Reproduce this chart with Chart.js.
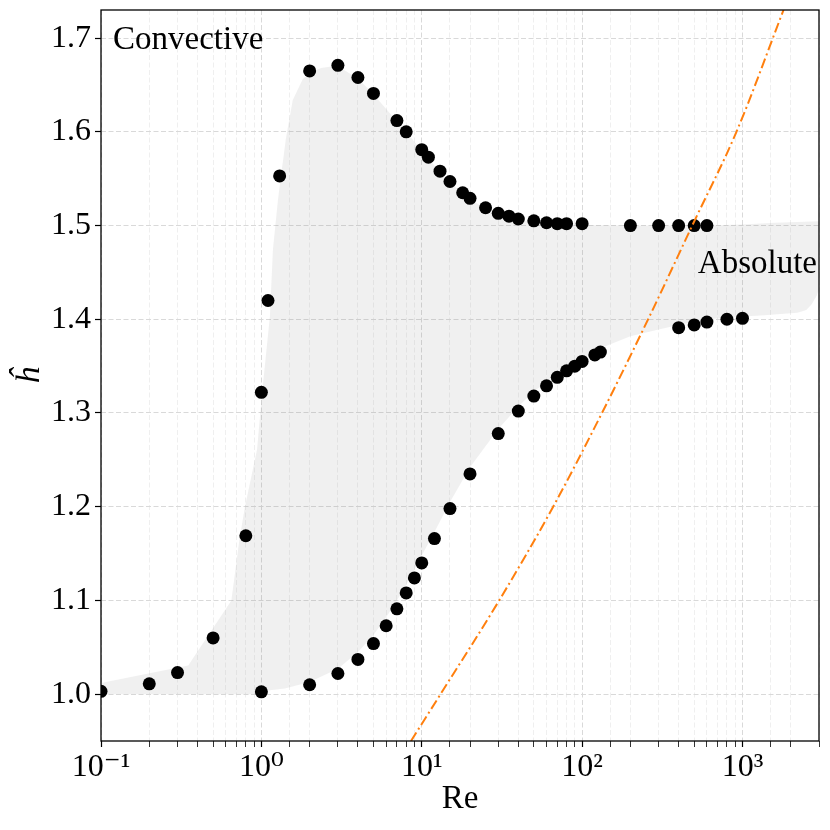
<!DOCTYPE html>
<html><head><meta charset="utf-8">
<script src="https://cdn.jsdelivr.net/npm/chart.js@4/dist/chart.umd.min.js"></script>
<style>html,body{margin:0;padding:0;background:#fff}#wrap{width:830px;height:830px}</style>
</head><body><div id="wrap"><canvas id="c" width="830" height="830"></canvas></div>
<script>
const FONT = "'Liberation Serif', 'DejaVu Serif', serif";

// Upper/left branch of points (Re, h-hat)
const branchARe = [0.1,0.2,0.3,0.5,0.8,1.0,1.1,1.3,2,3,4,5,7,8,10,11,13,15,18,20,25,30,35,40,50,60,70,80,100,200,300,400,500,600];
const branchAH  = [1.003,1.011,1.023,1.060,1.169,1.322,1.420,1.553,1.665,1.671,1.658,1.641,1.612,1.600,1.581,1.573,1.558,1.547,1.535,1.529,1.519,1.513,1.510,1.507,1.505,1.503,1.502,1.502,1.502,1.500,1.500,1.500,1.500,1.500];

// Lower branch of points
const branchBRe = [1,2,3,4,5,6,7,8,9,10,12,15,20,30,40,50,60,70,80,90,100,120,130,400,500,600,800,1000];
const branchBH  = [1.0025,1.010,1.022,1.037,1.054,1.073,1.091,1.108,1.124,1.140,1.166,1.198,1.235,1.278,1.302,1.318,1.329,1.338,1.345,1.350,1.355,1.362,1.365,1.391,1.394,1.397,1.400,1.401];

// Shaded region: upper boundary (left to right) and lower boundary (left to right)
const shadeUpperRe = [0.1,0.35,0.65,0.73,0.79,0.94,1.01,1.13,1.18,1.27,1.42,1.57,1.81,2.0,2.36,2.78,3.0,4,5,7,8,10,13,15,20,25,30,40,50,70,100,200,600,1000,1600,3000];
const shadeUpperH  = [1.012,1.0305,1.10,1.165,1.20,1.261,1.321,1.403,1.474,1.528,1.592,1.634,1.656,1.663,1.668,1.670,1.670,1.657,1.640,1.611,1.600,1.580,1.557,1.546,1.528,1.518,1.512,1.506,1.504,1.502,1.5005,1.500,1.500,1.501,1.503,1.5045];
const shadeLowerRe = [0.1,0.95,1.0,1.4,2,3,4,5,6,7,8,9,10,12,15,20,30,40,50,60,80,100,130,200,300,400,600,1000,1300,2200,2500,2700,2900,3000];
const shadeLowerH  = [1.0,1.0,1.003,1.006,1.013,1.027,1.045,1.063,1.082,1.100,1.117,1.133,1.148,1.173,1.205,1.242,1.283,1.307,1.323,1.333,1.348,1.358,1.369,1.382,1.389,1.394,1.400,1.403,1.404,1.407,1.410,1.416,1.425,1.432];

// Orange dash-dot curve
const curveRe = [8.57,13.1,30.4,66,133,258,486,917,1803];
const curveH  = [0.95,1.0,1.1,1.2,1.3,1.4,1.5,1.6,1.73];

// Axis tick labels
const xTickDecades = [0.1,1,10,100,1000];
const xTickLabels  = ['10\u207B\u00B9','10\u2070','10\u00B9','10\u00B2','10\u00B3'];

const pts = (xs, ys) => xs.map((x, i) => ({x, y: ys[i]}));
const polygon = pts(shadeUpperRe, shadeUpperH).concat(pts(shadeLowerRe, shadeLowerH).reverse());

const decadeIndex = v => xTickDecades.findIndex(d => Math.abs(Math.log10(v) - Math.log10(d)) < 1e-6);
const isMajor = v => decadeIndex(v) >= 0;

const framePlugin = {
  id: 'frame',
  afterDraw(chart) {
    const {ctx, chartArea: a} = chart;
    ctx.save();
    ctx.strokeStyle = '#000';
    ctx.lineWidth = 1.3;
    ctx.strokeRect(a.left, a.top, a.right - a.left, a.bottom - a.top);
    ctx.fillStyle = '#000';
    ctx.font = '33px ' + FONT;
    ctx.textBaseline = 'alphabetic';
    ctx.textAlign = 'left';
    ctx.fillText('Convective', a.left + 12, a.top + 39);
    ctx.textAlign = 'right';
    ctx.fillText('Absolute', a.right - 2, a.top + 263);
    ctx.restore();
  }
};

new Chart(document.getElementById('c'), {
  type: 'scatter',
  data: {
    datasets: [
      {
        label: 'threshold',
        data: pts(curveRe, curveH),
        showLine: true,
        borderColor: '#ff7f0e',
        borderWidth: 2,
        borderDash: [10, 3.5, 2, 3.5],
        pointRadius: 0,
        cubicInterpolationMode: 'monotone',
        fill: false
      },
      {
        label: 'branch A',
        data: pts(branchARe, branchAH),
        pointRadius: 6.5,
        pointHoverRadius: 6.5,
        backgroundColor: '#000',
        borderColor: '#000',
        borderWidth: 0
      },
      {
        label: 'branch B',
        data: pts(branchBRe, branchBH),
        pointRadius: 6.5,
        pointHoverRadius: 6.5,
        backgroundColor: '#000',
        borderColor: '#000',
        borderWidth: 0
      },
      {
        label: 'region',
        data: polygon,
        showLine: true,
        fill: 'shape',
        backgroundColor: 'rgba(128,128,128,0.12)',
        borderColor: 'rgba(0,0,0,0)',
        borderWidth: 0,
        pointRadius: 0,
        tension: 0
      }
    ]
  },
  options: {
    responsive: false,
    animation: false,
    layout: {padding: {left: 0, top: 10, right: 11, bottom: 0}},
    plugins: {legend: {display: false}, tooltip: {enabled: false}},
    scales: {
      x: {
        type: 'logarithmic',
        min: 0.1,
        max: 3000,
        afterFit: s => { s.height = 89; s.paddingLeft = 0; s.paddingRight = 0; },
        ticks: {
          autoSkip: false,
          maxRotation: 0,
          padding: 1,
          color: '#000',
          font: {family: FONT, size: 32},
          callback: (v) => { const i = decadeIndex(v); return i >= 0 ? xTickLabels[i] : ''; }
        },
        grid: {
          color: c => (c.tick && isMajor(c.tick.value)) ? '#d9d9d9' : '#efefef',
          lineWidth: 1,
          tickColor: '#000',
          tickLength: 6,
          tickWidth: c => (c.tick && isMajor(c.tick.value)) ? 1.2 : 0.8,
          tickBorderDash: []
        },
        border: {display: false, dash: [5, 2.5]},
        title: {display: true, text: 'Re', color: '#000', font: {family: FONT, size: 33}, padding: {top: 0, bottom: 11}}
      },
      y: {
        min: 0.95,
        max: 1.73,
        afterFit: s => { s.width = 101; s.paddingTop = 0; s.paddingBottom = 0; },
        ticks: {
          stepSize: 0.1,
          includeBounds: false,
          padding: 4,
          color: '#000',
          font: {family: FONT, size: 32},
          callback: v => v.toFixed(1)
        },
        grid: {color: '#d9d9d9', lineWidth: 1, tickColor: '#000', tickLength: 6, tickWidth: 1.2, tickBorderDash: []},
        border: {display: false, dash: [5, 2.5]},
        title: {display: true, text: 'ĥ', color: '#000', font: {family: FONT, size: 34, style: 'italic'}, padding: {top: 10, bottom: 0}}
      }
    }
  },
  plugins: [framePlugin]
});
</script>
</body></html>
